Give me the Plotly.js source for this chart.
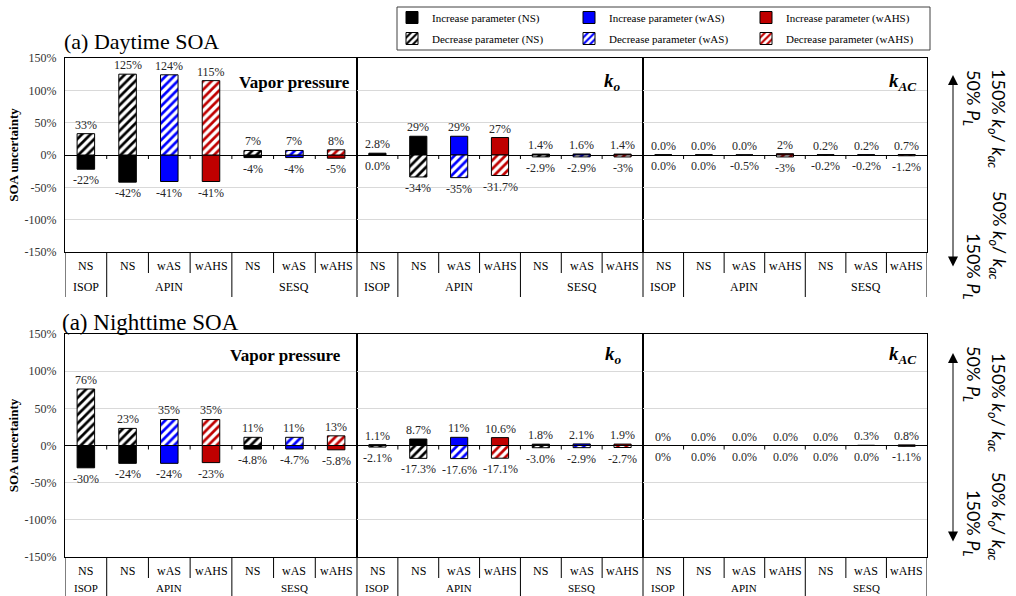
<!DOCTYPE html>
<html><head><meta charset="utf-8">
<script src="https://cdn.plot.ly/plotly-3.0.1.min.js"></script>
<style>html,body{margin:0;padding:0;background:#fff}#chart{width:1016px;height:596px}</style>
</head><body><div id="chart"></div>
<script>
// ---------- data ----------
const categories = ['NS','NS','wAS','wAHS','NS','wAS','wAHS'];
const speciesNames = ['ISOP','APIN','SESQ'];
const speciesSizes = [1,3,3];
const panelNames = ['<b>Vapor pressure</b>','<b><i>k<sub>o</sub></i></b>','<b><i>k<sub>AC</sub></i></b>'];
const rowTitles = ['(a) Daytime SOA','(a) Nighttime SOA'];
const yTicks = [-150,-100,-50,0,50,100,150];

// Daytime
const dayVpIncrease = [-22,-42,-41,-41,-4,-4,-5];
const dayVpDecrease = [33,125,124,115,7,7,8];
const dayKoIncrease = [2.8,29,29,27,1.4,1.6,1.4];
const dayKoDecrease = [0.0,-34,-35,-31.7,-2.9,-2.9,-3];
const dayKacIncrease = [0.0,0.0,0.0,2,0.2,0.2,0.7];
const dayKacDecrease = [0.0,0.0,-0.5,-3,-0.2,-0.2,-1.2];
const dayVpIncreaseText = ['-22%','-42%','-41%','-41%','-4%','-4%','-5%'];
const dayVpDecreaseText = ['33%','125%','124%','115%','7%','7%','8%'];
const dayKoIncreaseText = ['2.8%','29%','29%','27%','1.4%','1.6%','1.4%'];
const dayKoDecreaseText = ['0.0%','-34%','-35%','-31.7%','-2.9%','-2.9%','-3%'];
const dayKacIncreaseText = ['0.0%','0.0%','0.0%','2%','0.2%','0.2%','0.7%'];
const dayKacDecreaseText = ['0.0%','0.0%','-0.5%','-3%','-0.2%','-0.2%','-1.2%'];

// Nighttime
const nightVpIncrease = [-30,-24,-24,-23,-4.8,-4.7,-5.8];
const nightVpDecrease = [76,23,35,35,11,11,13];
const nightKoIncrease = [1.1,8.7,11,10.6,1.8,2.1,1.9];
const nightKoDecrease = [-2.1,-17.3,-17.6,-17.1,-3.0,-2.9,-2.7];
const nightKacIncrease = [0,0.0,0.0,0.0,0.0,0.3,0.8];
const nightKacDecrease = [0,0.0,0.0,0.0,0.0,0.0,-1.1];
const nightVpIncreaseText = ['-30%','-24%','-24%','-23%','-4.8%','-4.7%','-5.8%'];
const nightVpDecreaseText = ['76%','23%','35%','35%','11%','11%','13%'];
const nightKoIncreaseText = ['1.1%','8.7%','11%','10.6%','1.8%','2.1%','1.9%'];
const nightKoDecreaseText = ['-2.1%','-17.3%','-17.6%','-17.1%','-3.0%','-2.9%','-2.7%'];
const nightKacIncreaseText = ['0%','0.0%','0.0%','0.0%','0.0%','0.3%','0.8%'];
const nightKacDecreaseText = ['0%','0.0%','0.0%','0.0%','0.0%','0.0%','-1.1%'];

// ---------- styling / layout geometry ----------
const W = 1016, H = 596;
const SERIF = 'Liberation Serif, Times New Roman, serif';
const SANS = 'Lato, Liberation Sans, sans-serif';
const px = v => v / W;
const py = v => 1 - v / H;
const colorOf = {NS:'#000000', wAS:'#0000FF', wAHS:'#C00000'};
const groups = ['NS','wAS','wAHS'];
const panelX = [[65,357],[357,643],[643,927]];
const rowGeo = [
  {top:58, bottom:252, inner:266, outer:287, outerSize:12, shortEnd:273, longEnd:297, title:41, titleX:62, titleSize:22, panelTitleY:-24, panelTitleDX:[-5,-20,-9]},
  {top:334, bottom:557, inner:571, outer:588, outerSize:11, shortEnd:578, longEnd:596, title:322, titleX:60, titleSize:23, panelTitleY:-21, panelTitleDX:[-14,-19,-9]}
];
const rowsData = [
  [
    {inc:dayVpIncrease, dec:dayVpDecrease, incText:dayVpIncreaseText, decText:dayVpDecreaseText},
    {inc:dayKoIncrease, dec:dayKoDecrease, incText:dayKoIncreaseText, decText:dayKoDecreaseText},
    {inc:dayKacIncrease, dec:dayKacDecrease, incText:dayKacIncreaseText, decText:dayKacDecreaseText}
  ],
  [
    {inc:nightVpIncrease, dec:nightVpDecrease, incText:nightVpIncreaseText, decText:nightVpDecreaseText},
    {inc:nightKoIncrease, dec:nightKoDecrease, incText:nightKoIncreaseText, decText:nightKoDecreaseText},
    {inc:nightKacIncrease, dec:nightKacDecrease, incText:nightKacIncreaseText, decText:nightKacDecreaseText}
  ]
];

// category boundaries
const groupBounds = [-0.5];
speciesSizes.reduce((acc, s) => { groupBounds.push(acc + s); return acc + s; }, -0.5);
const allInner = categories.slice(1).map((_, i) => i + 0.5);
const innerBounds = allInner.filter(b => !groupBounds.includes(b));
const speciesCenters = [];
speciesSizes.reduce((acc, s) => { speciesCenters.push(acc + (s - 1) / 2); return acc + s; }, 0);

const legendBase = {
  orientation: 'h', xref: 'paper', yref: 'paper', xanchor: 'left', yanchor: 'top',
  borderwidth: 0, bgcolor: 'rgba(0,0,0,0)',
  font: {family: SERIF, size: 11, color: '#000'},
  entrywidth: 132, entrywidthmode: 'pixels', itemwidth: 30, traceorder: 'normal'
};

const traces = [];
const layout = {
  width: W, height: H,
  margin: {l:0, r:0, t:0, b:0},
  paper_bgcolor: '#fff', plot_bgcolor: '#fff',
  barmode: 'overlay',
  showlegend: true,
  legend: Object.assign({}, legendBase, {x: px(392), y: py(3)}),
  legend2: Object.assign({}, legendBase, {x: px(392), y: py(24)}),
  shapes: [{type: 'rect', xref: 'paper', yref: 'paper', x0: px(397), x1: px(930), y0: py(50), y1: py(7),
            line: {color: '#404040', width: 1}, fillcolor: 'rgba(0,0,0,0)', layer: 'below'}],
  annotations: []
};

rowsData.forEach((panels, r) => {
  const g = rowGeo[r];
  layout.annotations.push({
    text: rowTitles[r], xref: 'paper', yref: 'paper', x: px(g.titleX), y: py(g.title),
    xanchor: 'left', yanchor: 'middle', showarrow: false,
    font: {family: SERIF, size: g.titleSize, color: '#000'}
  });
  panels.forEach((pd, p) => {
    const n = r * 3 + p + 1;
    const xa = n === 1 ? 'x' : 'x' + n;
    const ya = n === 1 ? 'y' : 'y' + n;
    const xk = n === 1 ? 'xaxis' : 'xaxis' + n;
    const yk = n === 1 ? 'yaxis' : 'yaxis' + n;
    layout[xk] = {
      domain: [px(panelX[p][0]), px(panelX[p][1])], range: [-0.5, 6.5], anchor: ya,
      showticklabels: false, showgrid: false, zeroline: false, ticks: '',
      showline: true, mirror: true, linecolor: '#000', linewidth: 1, fixedrange: true
    };
    layout[yk] = {
      domain: [py(g.bottom), py(g.top)], range: [-150, 150], anchor: xa,
      tickvals: yTicks, ticktext: yTicks.map(v => v + '%'),
      showticklabels: p === 0, ticks: '', ticklabelstandoff: 5,
      tickfont: {family: SERIF, size: 12, color: '#333'},
      showgrid: true, gridcolor: '#d9d9d9', gridwidth: 1,
      zeroline: true, zerolinecolor: '#000', zerolinewidth: 1,
      showline: true, mirror: true, linecolor: '#000', linewidth: 1, fixedrange: true
    };
    if (p === 0) {
      layout[yk].title = {text: '<b>SOA uncertainty</b>', font: {family: SERIF, size: 13, color: '#000'}, standoff: 3};
    }
    // which series sits above the zero line in this panel
    const sum = a => a.reduce((s, v) => s + v, 0);
    const upperKind = sum(pd.inc) >= sum(pd.dec) ? 'inc' : 'dec';

    ['inc', 'dec'].forEach(kind => {
      groups.forEach((grp, gi) => {
        const idx = categories.map((c, i) => c === grp ? i : -1).filter(i => i >= 0);
        const marker = kind === 'inc'
          ? {color: colorOf[grp], line: {color: '#000', width: 1}}
          : {color: '#fff', line: {color: '#000', width: 1},
             pattern: {shape: '/', fgcolor: colorOf[grp], bgcolor: '#fff', size: 6, solidity: 0.45, fillmode: 'replace'}};
        traces.push({
          type: 'bar', x: idx, y: idx.map(i => pd[kind][i]), xaxis: xa, yaxis: ya,
          width: 0.42, marker: marker, hoverinfo: 'skip',
          name: (kind === 'inc' ? 'Increase' : 'Decrease') + ' parameter (' + grp + ')',
          legend: kind === 'inc' ? 'legend' : 'legend2',
          legendrank: gi + 1,
          showlegend: n === 1
        });
      });
      // value labels
      const vals = pd[kind], texts = pd[kind + 'Text'];
      vals.forEach((v, i) => {
        const up = kind === upperKind;
        layout.annotations.push({
          text: texts[i], xref: xa, yref: ya, x: i, y: v, showarrow: false,
          xanchor: 'center', yanchor: up ? 'bottom' : 'top', yshift: up ? 0 : -2,
          font: {family: SERIF, size: 12, color: '#262626'}
        });
      });
    });

    // panel title
    layout.annotations.push({
      text: panelNames[p], xref: xa + ' domain', yref: ya + ' domain', x: 1, y: 1,
      xanchor: 'right', yanchor: 'middle', xshift: g.panelTitleDX[p], yshift: g.panelTitleY,
      showarrow: false, font: {family: SERIF, size: p === 0 ? 17 : 19, color: '#000'}
    });
    // zero-line tick marks between categories
    allInner.forEach(b => layout.shapes.push({
      type: 'line', xref: xa, yref: ya, x0: b, x1: b, ysizemode: 'pixel', yanchor: 0, y0: -4, y1: 0,
      line: {color: '#000', width: 1}
    }));
    // label table dividers
    groupBounds.forEach(b => layout.shapes.push({
      type: 'line', xref: xa, yref: 'paper', x0: b, x1: b, y0: py(g.bottom), y1: py(g.longEnd),
      line: {color: '#000', width: 1}
    }));
    innerBounds.forEach(b => layout.shapes.push({
      type: 'line', xref: xa, yref: 'paper', x0: b, x1: b, y0: py(g.bottom), y1: py(g.shortEnd),
      line: {color: '#000', width: 1}
    }));
    // category labels
    categories.forEach((c, i) => layout.annotations.push({
      text: c, xref: xa, yref: 'paper', x: i, y: py(g.inner), xanchor: 'center', yanchor: 'middle',
      showarrow: false, font: {family: SERIF, size: 12, color: '#000'}
    }));
    speciesNames.forEach((s, i) => layout.annotations.push({
      text: s, xref: xa, yref: 'paper', x: speciesCenters[i], y: py(g.outer), xanchor: 'center', yanchor: 'middle',
      showarrow: false, font: {family: SERIF, size: g.outerSize, color: '#000'}
    }));
  });
});

// right-hand direction arrows and notes
const arrowGeo = [
  {x: 953, y0: 75, y1: 268, kTop: 118, kBot: 235, pTop: 98, pBot: 266},
  {x: 953, y0: 353, y1: 543, kTop: 402, kBot: 516, pTop: 374, pBot: 523}
];
arrowGeo.forEach(a => {
  layout.annotations.push({
    text: '', xref: 'paper', yref: 'paper', x: px(a.x), y: py(a.y0), ax: 0, ay: a.y1 - a.y0,
    showarrow: true, arrowside: 'end+start', arrowhead: 2, arrowsize: 2, arrowwidth: 1, arrowcolor: '#000'
  });
  const note = (t, x, y) => layout.annotations.push({
    text: t, xref: 'paper', yref: 'paper', x: px(x), y: py(y), textangle: 90,
    xanchor: 'center', yanchor: 'middle', showarrow: false,
    font: {family: SANS, size: 18, color: '#000'}
  });
  note('150% <i>k<sub>o</sub></i>/ <i>k<sub>ac</sub></i>', 998, a.kTop);
  note('50% <i>k<sub>o</sub></i>/ <i>k<sub>ac</sub></i>', 998, a.kBot);
  note('50% <i>P<sub>L</sub></i>', 973, a.pTop);
  note('150% <i>P<sub>L</sub></i>', 973, a.pBot);
});

Plotly.newPlot('chart', traces, layout, {staticPlot: true, displayModeBar: false});
</script>
</body></html>
